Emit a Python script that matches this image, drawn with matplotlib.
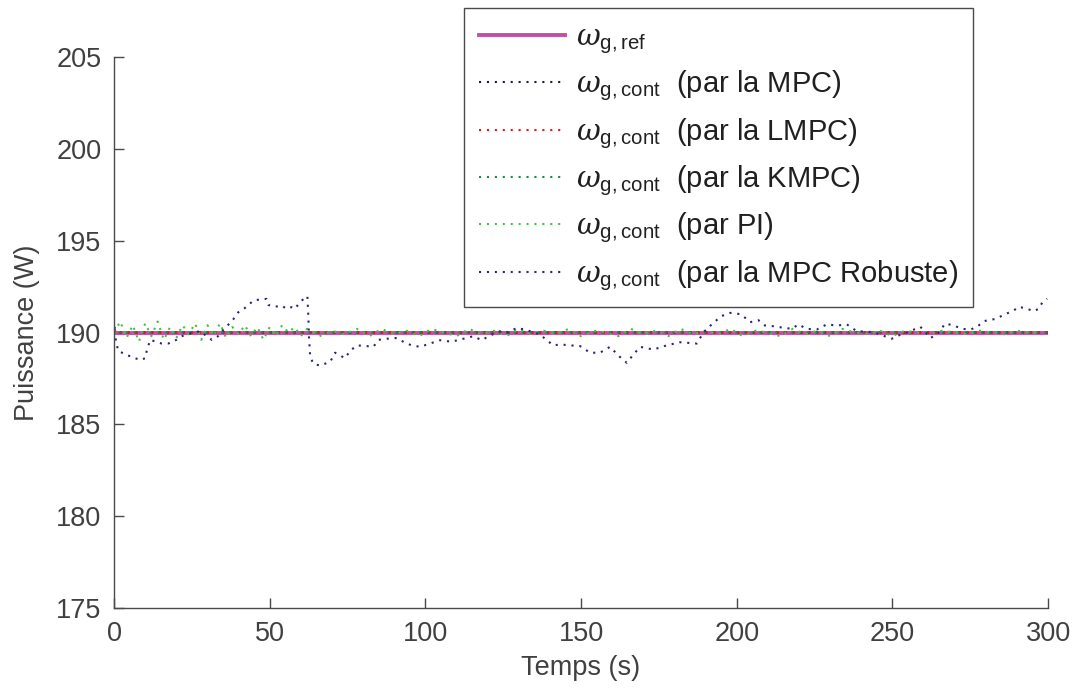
import numpy as np
import matplotlib.pyplot as plt

# --- data ---
t_ref = [0, 300]
p_ref = [190.0, 190.0]

t_mpc = [0, 1, 2, 300]
p_mpc = [190.3, 190.05, 190.0, 190.0]
t_lmpc = [0, 1, 2, 300]
p_lmpc = [190.1, 190.2, 190.0, 190.0]
t_kmpc = [0, 1, 2, 300]
p_kmpc = [190.2, 189.9, 190.0, 190.0]

t_pi = list(np.arange(0, 62, 2)) + list(np.arange(62, 302, 4))
p_pi = [190.0, 190.6, 189.7, 190.4, 189.5, 190.5, 189.8, 190.6, 189.6, 190.3,
        189.7, 190.4, 189.9, 190.5, 189.6, 190.4, 189.8, 190.5, 189.7, 190.3,
        189.9, 190.4, 189.8, 190.3, 189.6, 190.3, 189.8, 190.4, 190.0, 190.3,
        189.8,
        190.2, 189.8, 190.1, 189.9, 190.2, 189.8, 190.2, 189.9, 190.1, 189.8,
        190.2, 190.0, 189.8, 190.2, 189.9, 190.1, 189.8, 190.2, 189.9, 190.1,
        189.9, 190.2, 189.8, 190.1, 190.0, 189.8, 190.2, 189.9, 190.1, 189.8,
        190.2, 189.9, 190.1, 189.9, 190.2, 189.8, 190.1, 190.0, 189.8, 190.2,
        189.9, 190.1, 189.8, 190.2, 190.0, 189.9, 190.1, 189.8, 190.1, 190.0,
        189.9, 190.1, 190.0, 189.9, 190.1, 190.0, 189.9, 190.1, 190.0, 190.0]

t_rob = [0, 1.3, 4.5, 8.4, 10, 10.5, 11.6, 15.3, 17.4, 20, 21.7, 25.5, 27.6,
         29.8, 31.4, 33.4, 35.7, 37.8, 39.9, 42.6, 44.7, 46.9, 49, 49.6, 51.7,
         53.8, 55.4, 57, 58.1, 59.7, 61.3, 62.1, 62.4, 62.6, 63, 64, 66.1, 69.4,
         71, 72.6, 74.2, 75.8, 78, 81.2, 83.3, 84.9, 87.6, 90.8, 93.5, 95.6,
         98.3, 101.5, 104.7, 108.4, 112.2, 115.4, 118.1, 120.8, 124, 126.7,
         129.4, 132.5, 136.8, 139, 141.1, 143.3, 146.5, 149.7, 152.9, 156.1,
         159.3, 162.5, 164.7, 166.8, 169, 173.2, 177.5, 181.8, 187.2, 189.3,
         192.5, 195.2, 197.9, 201.1, 203.2, 204.3, 207, 209.1, 211.8, 215,
         217.7, 219.8, 222.5, 225.7, 228.9, 232.2, 235.4, 238.6, 243.9, 249.8,
         252, 254.7, 259, 262.2, 264.4, 267, 269.7, 272.4, 275.1, 277.2, 279.4,
         283.1, 286.3, 289, 290.6, 293.3, 295.4, 297, 298.1, 299.7]
p_rob = [190.1, 189.0, 188.75, 188.5, 188.6, 189.0, 189.6, 189.4, 189.4, 189.6,
         189.8, 190.0, 190.07, 189.8, 189.6, 189.8, 190.27, 190.6, 191.1, 191.4,
         191.74, 191.8, 191.83, 191.5, 191.4, 191.47, 191.29, 191.38, 191.29,
         191.65, 191.89, 191.98, 190.9, 189.8, 188.7, 188.3, 188.2, 188.4, 188.9,
         188.75, 188.6, 189.0, 189.3, 189.26, 189.22, 189.6, 189.66, 189.7,
         189.44, 189.3, 189.22, 189.4, 189.58, 189.5, 189.66, 189.8, 189.58,
         189.84, 190.07, 190.0, 190.26, 190.13, 189.9, 189.58, 189.3, 189.35,
         189.3, 189.26, 188.9, 188.9, 189.22, 188.67, 188.35, 188.8, 189.22,
         189.07, 189.3, 189.47, 189.4, 190.0, 190.53, 190.9, 191.07, 191.0,
         190.74, 190.56, 190.67, 190.38, 190.34, 190.26, 190.2, 190.44, 190.2,
         190.16, 190.44, 190.38, 190.44, 190.07, 190.02, 189.66, 189.84, 190.0,
         190.31, 189.7, 189.9, 190.49, 190.38, 190.2, 190.16, 190.31, 190.62,
         190.74, 191.0, 191.2, 191.4, 191.29, 191.16, 191.29, 191.62, 191.84]

labels = [r'$\omega_{\mathrm{g,ref}}$',
          r'$\omega_{\mathrm{g,cont}}$  (par la MPC)',
          r'$\omega_{\mathrm{g,cont}}$  (par la LMPC)',
          r'$\omega_{\mathrm{g,cont}}$  (par la KMPC)',
          r'$\omega_{\mathrm{g,cont}}$  (par PI)',
          r'$\omega_{\mathrm{g,cont}}$  (par la MPC Robuste)']

plt.rcParams['font.family'] = 'Liberation Sans'
plt.rcParams['mathtext.fontset'] = 'custom'
plt.rcParams['mathtext.rm'] = 'Liberation Sans'
plt.rcParams['mathtext.it'] = 'DejaVu Serif:italic'

txt = '#404040'
dots = (0, (1, 2.8))

fig = plt.figure(figsize=(10.78, 6.90), dpi=100)
ax = fig.add_axes([0.1058, 0.1188, 0.8664, 0.7986])

ax.plot(t_ref, p_ref, color='#c050a0', lw=2.8, label=labels[0])
ax.plot(t_mpc, p_mpc, color='#1a1a30', lw=1.5, ls=dots, label=labels[1])
ax.plot(t_lmpc, p_lmpc, color='#e8141c', lw=1.5, ls=dots, label=labels[2])
ax.plot(t_kmpc, p_kmpc, color='#1a8a4a', lw=1.5, ls=dots, label=labels[3])
ax.plot(t_pi, p_pi, color='#44c044', lw=1.5, ls=dots, label=labels[4])
ax.plot(t_rob, p_rob, color='#25257a', lw=1.5, ls=dots, label=labels[5])

ax.set_xlim(0, 300)
ax.set_ylim(175, 205)
ax.set_xticks(np.arange(0, 301, 50))
ax.set_yticks(np.arange(175, 206, 5))
for s in ['top', 'right']:
    ax.spines[s].set_visible(False)
for s in ['left', 'bottom']:
    ax.spines[s].set_color('#4a4a4a')
    ax.spines[s].set_linewidth(1.0)
ax.tick_params(direction='in', length=7, width=1.0, color='#4a4a4a',
               labelsize=19.5, labelcolor=txt, pad=9)
ax.set_xlabel('Temps (s)', fontsize=19.5, color=txt, labelpad=6)
ax.set_ylabel('Puissance (W)', fontsize=19.5, color=txt, labelpad=12)

leg = ax.legend(loc='upper right', bbox_to_anchor=(0.9026, 0.988),
                bbox_transform=fig.transFigure, borderaxespad=0,
                fontsize=21, handlelength=2.95, handletextpad=0.4,
                labelspacing=0.44, fancybox=False, framealpha=1,
                edgecolor='#4a4a4a', borderpad=0.5)
leg.get_frame().set_linewidth(1.0)
for t in leg.get_texts():
    t.set_color('#202020')

fig.savefig('out.png', dpi=100)
